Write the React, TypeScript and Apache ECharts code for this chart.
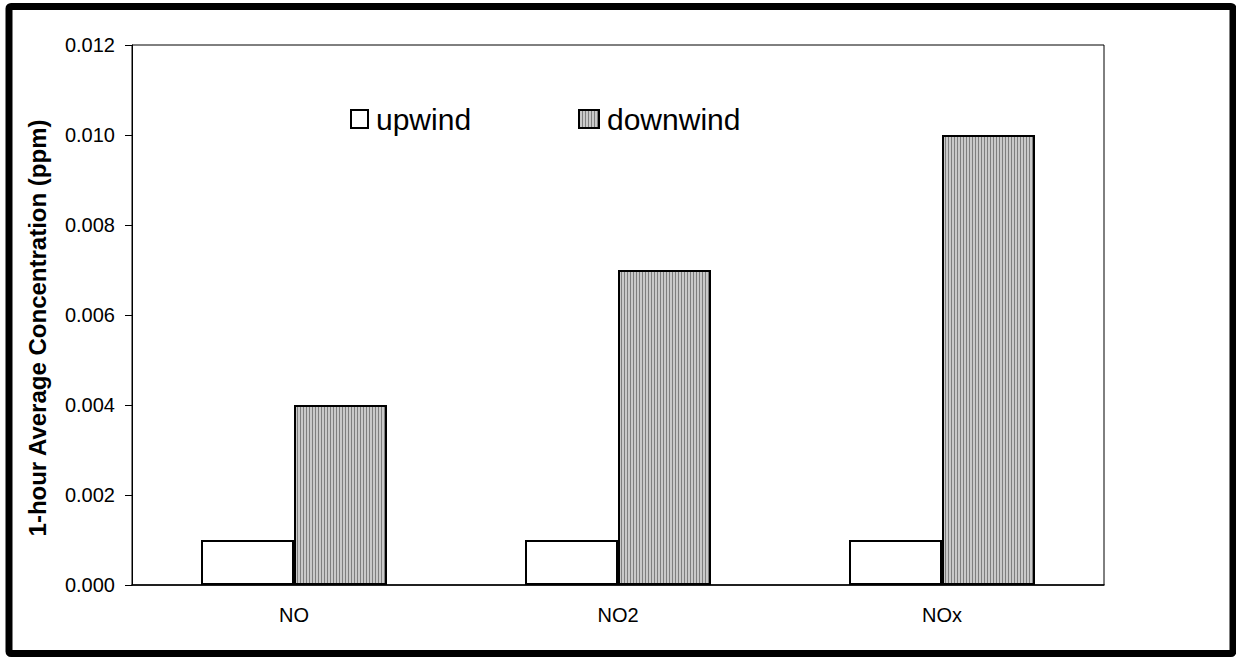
import React, { useEffect, useRef } from "react";
import * as echarts from "echarts";

const categories = ["NO", "NO2", "NOx"];
const upwind = [0.001, 0.001, 0.001];
const downwind = [0.004, 0.007, 0.01];
const yTicks = { min: 0, max: 0.012, interval: 0.002 };
const seriesNames = ["upwind", "downwind"];
const yTitle = "1-hour Average Concentration (ppm)";

const FONT = "'Liberation Sans', Arial, sans-serif";

// vertical hatch used by the downwind bars and their legend icon
const stripes = {
  symbol: "rect",
  symbolSize: 1,
  dashArrayX: [1, 2],
  dashArrayY: [20, 0],
  rotation: 0,
  color: "#7e7e7e",
};

export default function App() {
  const ref = useRef<HTMLDivElement>(null);

  useEffect(() => {
    if (!ref.current) return;
    const chart = echarts.init(ref.current, null, { renderer: "svg" });
    const legendText = { fontSize: 30, color: "#000", fontFamily: FONT, padding: [0, 0, 0, 3] };
    chart.setOption({
      animation: false,
      backgroundColor: "#ffffff",
      textStyle: { fontFamily: FONT },
      grid: {
        left: 132,
        right: 132,
        top: 45,
        bottom: 73,
        show: true,
        borderColor: "#000",
        borderWidth: 1,
        backgroundColor: "transparent",
      },
      legend: [
        {
          data: [seriesNames[0]],
          left: 350,
          top: 104,
          padding: 0,
          icon: "rect",
          itemWidth: 17,
          itemHeight: 18,
          textStyle: legendText,
        },
        {
          data: [seriesNames[1]],
          left: 578,
          top: 104,
          padding: 0,
          icon: "rect",
          itemWidth: 20,
          itemHeight: 18,
          textStyle: legendText,
        },
      ],
      xAxis: {
        type: "category",
        data: categories,
        axisLine: { lineStyle: { color: "#000", width: 1.5 } },
        axisTick: { length: 7, lineStyle: { color: "#808080", width: 1.5 } },
        axisLabel: { color: "#000", fontSize: 20, margin: 20, fontFamily: FONT },
        splitLine: { show: false },
      },
      yAxis: {
        type: "value",
        min: yTicks.min,
        max: yTicks.max,
        interval: yTicks.interval,
        axisLine: { show: true, lineStyle: { color: "#000", width: 1 } },
        axisTick: { show: true, length: 7, lineStyle: { color: "#000", width: 1 } },
        axisLabel: {
          color: "#000",
          fontSize: 20,
          margin: 17,
          fontFamily: FONT,
          formatter: (v: number) => v.toFixed(3),
        },
        splitLine: { show: false },
      },
      series: [
        {
          name: seriesNames[0],
          type: "bar",
          data: upwind,
          barWidth: 93,
          barGap: "0%",
          itemStyle: { color: "#ffffff", borderColor: "#000", borderWidth: 2 },
        },
        {
          name: seriesNames[1],
          type: "bar",
          data: downwind,
          barWidth: 93,
          barGap: "0%",
          itemStyle: {
            color: "#c9c9c9",
            borderColor: "#000",
            borderWidth: 2,
            decal: stripes,
          },
        },
      ],
      graphic: [
        {
          type: "text",
          x: 37,
          y: 328,
          rotation: Math.PI / 2,
          style: {
            text: yTitle,
            font: `bold 24px ${FONT}`,
            fill: "#000",
            align: "center",
            verticalAlign: "middle",
          },
        },
        {
          type: "rect",
          shape: { x: 9, y: 6.5, width: 1224, height: 647, r: 2 },
          style: { fill: "none", stroke: "#000", lineWidth: 7 },
          z: 100,
        },
      ],
    });
    return () => chart.dispose();
  }, []);

  return (
    <div
      ref={ref}
      style={{ position: "absolute", left: 0, top: 0, width: 1236, height: 658 }}
    />
  );
}
